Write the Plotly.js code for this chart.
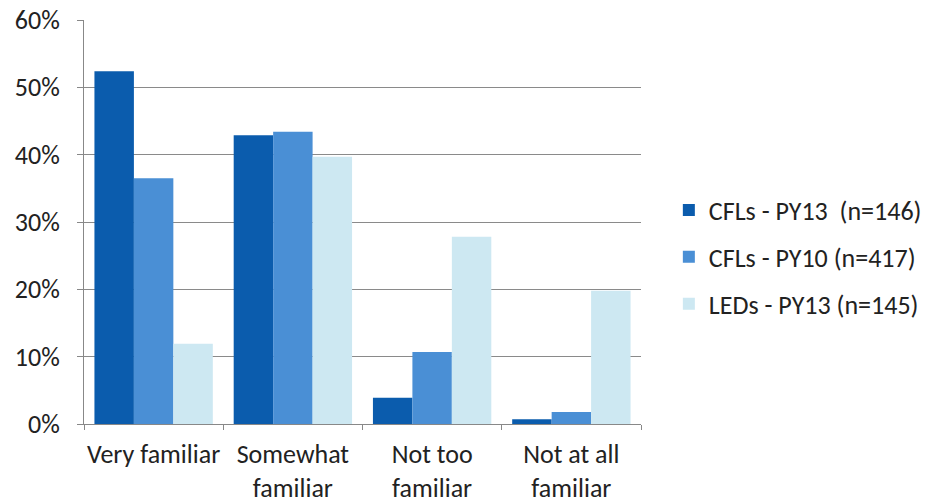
<!DOCTYPE html>
<html><head><meta charset="utf-8">
<script src="https://cdn.plot.ly/plotly-3.0.1.min.js"></script>
<style>body{margin:0;background:#fff}#c{width:925px;height:504px}</style>
</head><body><div id="c"></div>
<script>
const categories = ["Very familiar", "Somewhat<br>familiar", "Not too<br>familiar", "Not at all<br>familiar"];
const seriesNames = ["CFLs - PY13  (n=146)", "CFLs - PY10 (n=417)", "LEDs - PY13 (n=145)"];
const cfl13 = [0.524, 0.429, 0.039, 0.007];
const cfl10 = [0.365, 0.434, 0.107, 0.018];
const led13 = [0.119, 0.397, 0.278, 0.198];
const yTicks = [0, 0.1, 0.2, 0.3, 0.4, 0.5, 0.6];
const yTickText = ["0%", "10%", "20%", "30%", "40%", "50%", "60%"];
const colors = ["#0b5cad", "#4a8fd5", "#cde8f2"];
const vals = [cfl13, cfl10, led13];
const font = "Carlito, Lato, 'Open Sans', sans-serif";
const data = vals.map((v, i) => ({
  type: "bar", x: categories, y: v, name: seriesNames[i],
  marker: {color: colors[i]}, legendgroup: "g" + i
}));
const layout = {
  width: 925, height: 504,
  margin: {l: 84, r: 284, t: 20, b: 80, autoexpand: false},
  paper_bgcolor: "#fff", plot_bgcolor: "#fff",
  barmode: "group", bargap: 0.15, bargroupgap: 0,
  font: {family: font, size: 26, color: "#222"},
  xaxis: {
    showline: true, linecolor: "#888", linewidth: 1,
    ticks: "outside", tickson: "boundaries", ticklen: 5, tickcolor: "#888",
    tickfont: {size: 26}, tickangle: 0, showgrid: false, ticklabelstandoff: 7,
    automargin: false
  },
  yaxis: {
    range: [0, 0.6], tickvals: yTicks, ticktext: yTickText,
    showline: true, linecolor: "#888", linewidth: 1,
    ticks: "outside", ticklen: 6, tickcolor: "#888",
    showgrid: true, gridcolor: "#8a8a8a", gridwidth: 1,
    zeroline: false, tickfont: {size: 26}, ticklabelstandoff: 12,
    automargin: false
  },
  legend: {
    x: 1.05, xanchor: "left", y: 0.413, yanchor: "middle",
    font: {size: 26, color: "#222"}, tracegroupgap: 10,
    traceorder: "grouped"
  },
  showlegend: true
};
Plotly.newPlot("c", data, layout, {displayModeBar: false});
</script></body></html>
